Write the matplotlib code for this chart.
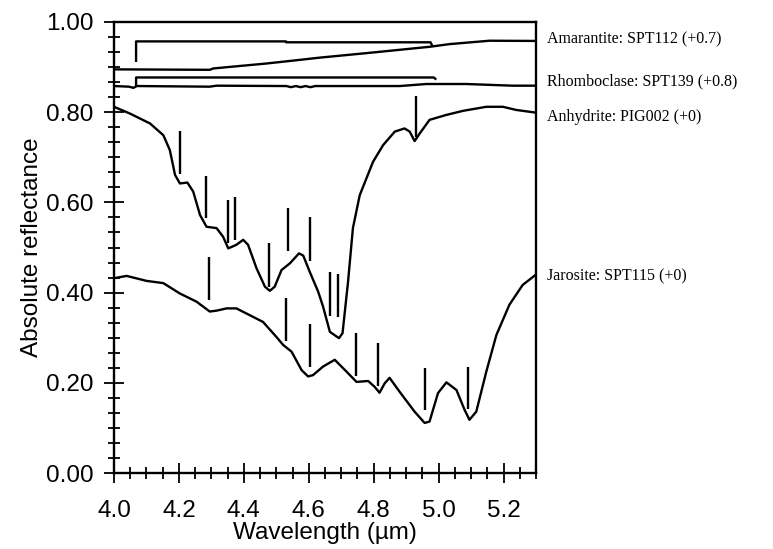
import matplotlib
matplotlib.use("Agg")
import matplotlib.pyplot as plt
from matplotlib.ticker import MultipleLocator, FormatStrFormatter

# spectra (raw reflectance, offsets added when drawing)
amarantite_wl = [4.0, 4.295, 4.306, 4.47, 4.572, 4.634, 4.778, 4.972, 5.034, 5.157, 5.30]
amarantite_r = [0.195, 0.194, 0.197, 0.208, 0.216, 0.221, 0.231, 0.245, 0.251, 0.2585, 0.258]
amarantite_offset = 0.7

rhomboclase_wl = [4.0, 4.046, 4.06, 4.07, 4.295, 4.316, 4.531, 4.545, 4.56, 4.575, 4.59,
                  4.605, 4.62, 4.88, 4.962, 5.085, 5.228, 5.30]
rhomboclase_r = [0.058, 0.0566, 0.054, 0.058, 0.0566, 0.0588, 0.058, 0.0555, 0.058,
                 0.0555, 0.058, 0.0555, 0.058, 0.058, 0.0625, 0.0625, 0.0588, 0.0588]
rhomboclase_offset = 0.8

anhydrite_wl = [4.0, 4.049, 4.111, 4.152, 4.172, 4.188, 4.203, 4.226, 4.244, 4.265, 4.285,
                4.316, 4.336, 4.352, 4.377, 4.398, 4.413, 4.439, 4.465, 4.48, 4.495,
                4.516, 4.542, 4.57, 4.583, 4.603, 4.629, 4.644, 4.665, 4.693, 4.704,
                4.721, 4.736, 4.757, 4.798, 4.829, 4.865, 4.895, 4.911, 4.926, 4.942,
                4.972, 5.024, 5.075, 5.147, 5.198, 5.239, 5.30]
anhydrite_r = [0.812, 0.797, 0.775, 0.749, 0.716, 0.661, 0.642, 0.644, 0.624, 0.572, 0.546,
               0.543, 0.524, 0.498, 0.506, 0.517, 0.506, 0.454, 0.413, 0.404, 0.413,
               0.450, 0.465, 0.487, 0.482, 0.446, 0.402, 0.369, 0.313, 0.299, 0.310,
               0.424, 0.543, 0.616, 0.690, 0.727, 0.757, 0.764, 0.757, 0.736, 0.753,
               0.783, 0.794, 0.803, 0.812, 0.812, 0.805, 0.799]
anhydrite_offset = 0.0

jarosite_wl = [4.0, 4.039, 4.1, 4.152, 4.203, 4.254, 4.295, 4.316, 4.347, 4.377, 4.418,
               4.459, 4.5, 4.521, 4.547, 4.578, 4.598, 4.613, 4.644, 4.68, 4.716,
               4.747, 4.783, 4.803, 4.818, 4.834, 4.849, 4.88, 4.926, 4.957, 4.972,
               4.998, 5.024, 5.055, 5.08, 5.095, 5.116, 5.147, 5.178, 5.218, 5.259, 5.30]
jarosite_r = [0.432, 0.437, 0.426, 0.421, 0.398, 0.380, 0.358, 0.360, 0.365, 0.365, 0.350,
              0.335, 0.302, 0.284, 0.269, 0.228, 0.214, 0.217, 0.236, 0.251, 0.225,
              0.202, 0.204, 0.191, 0.178, 0.199, 0.211, 0.180, 0.136, 0.111, 0.114,
              0.177, 0.201, 0.184, 0.140, 0.118, 0.136, 0.225, 0.306, 0.373, 0.417, 0.440]
jarosite_offset = 0.0

names = ["Amarantite: SPT112 (+0.7)", "Rhomboclase: SPT139 (+0.8)",
         "Anhydrite: PIG002 (+0)", "Jarosite: SPT115 (+0)"]
name_y = [0.962, 0.868, 0.790, 0.435]

# band-centre markers
marker_wl = [4.203, 4.283, 4.350, 4.374, 4.477, 4.537, 4.605, 4.665, 4.689, 4.931,
             4.293, 4.529, 4.605, 4.747, 4.814, 4.957, 5.089]
marker_lo = [0.664, 0.565, 0.511, 0.517, 0.413, 0.492, 0.471, 0.349, 0.345, 0.746,
             0.384, 0.293, 0.236, 0.215, 0.193, 0.140, 0.141]
marker_hi = [0.759, 0.659, 0.605, 0.613, 0.509, 0.588, 0.567, 0.445, 0.441, 0.836,
             0.480, 0.389, 0.330, 0.310, 0.288, 0.233, 0.236]

# range brackets (amarantite, rhomboclase)
bracket_amar_x = [4.068, 4.068, 4.53, 4.53, 4.975, 4.98]
bracket_amar_y = [0.914, 0.957, 0.957, 0.955, 0.955, 0.948]
bracket_rhom_x = [4.068, 4.068, 4.985, 4.99]
bracket_rhom_y = [0.860, 0.877, 0.877, 0.874]

fig = plt.figure(figsize=(7.73, 5.49), dpi=100)
ax = fig.add_axes([114 / 773, 1 - 473 / 549, (536 - 114) / 773, (473 - 22) / 549])

lw = 1.7
ax.plot(amarantite_wl, [v + amarantite_offset for v in amarantite_r], color="black", lw=lw)
ax.plot(rhomboclase_wl, [v + rhomboclase_offset for v in rhomboclase_r], color="black", lw=lw)
ax.plot(anhydrite_wl, [v + anhydrite_offset for v in anhydrite_r], color="black", lw=lw)
ax.plot(jarosite_wl, [v + jarosite_offset for v in jarosite_r], color="black", lw=lw)
ax.plot(bracket_amar_x, bracket_amar_y, color="black", lw=lw)
ax.plot(bracket_rhom_x, bracket_rhom_y, color="black", lw=lw)
ax.vlines(marker_wl, marker_lo, marker_hi, colors="black", lw=lw)

for name, y in zip(names, name_y):
    ax.text(5.335, y, name, family="Liberation Serif", fontsize=11.5,
            va="center", ha="left", clip_on=False)

ax.set_xlim(4.0, 5.3)
ax.set_ylim(0.0, 1.0)
ax.xaxis.set_major_locator(MultipleLocator(0.2))
ax.xaxis.set_minor_locator(MultipleLocator(0.05))
ax.yaxis.set_major_locator(MultipleLocator(0.2))
ax.yaxis.set_minor_locator(MultipleLocator(0.2 / 6))
ax.xaxis.set_major_formatter(FormatStrFormatter("%.1f"))
ax.yaxis.set_major_formatter(FormatStrFormatter("%.2f"))

ax.tick_params(which="both", direction="inout", top=False, right=False,
               labelsize=17.5, width=1.3)
ax.tick_params(axis="y", which="both", pad=8)
ax.tick_params(axis="x", which="both", pad=12.5)
ax.tick_params(which="major", length=14)
ax.tick_params(which="minor", length=9)
for lab in ax.get_xticklabels() + ax.get_yticklabels():
    lab.set_family("Liberation Sans")
for sp in ax.spines.values():
    sp.set_linewidth(1.7)

ax.set_xlabel("Wavelength (µm)", family="Liberation Sans", fontsize=17.5, labelpad=0)
ax.set_ylabel("Absolute reflectance", family="Liberation Sans", fontsize=17.5, labelpad=2)

fig.savefig("out.png", dpi=100)
